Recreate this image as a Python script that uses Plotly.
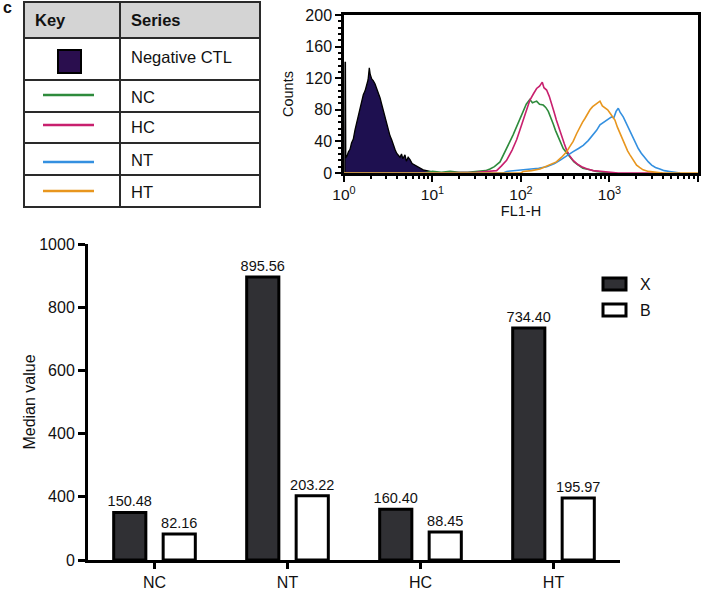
import numpy as np
import plotly.graph_objects as go

# ---------------- data ----------------
categories = ["NC", "NT", "HC", "HT"]
x_values = [150.48, 895.56, 160.40, 734.40]
b_values = [82.16, 203.22, 88.45, 195.97]
bar_tickvals = [0, 200, 400, 600, 800, 1000]
bar_ticktext = ["0", "400", "400", "600", "800", "1000"]

key_series = ["Negative CTL", "NC", "HC", "NT", "HT"]

# FL1-H histograms: exponent (log10 FL1-H) and counts
neg_log = [0.000, 0.010, 0.012, 0.016, 0.020, 0.035, 0.050, 0.068, 0.085, 0.105, 0.125, 0.143,
           0.160, 0.181, 0.200, 0.218, 0.238, 0.256, 0.272, 0.286, 0.296, 0.313, 0.330, 0.350,
           0.368, 0.388, 0.408, 0.426, 0.445, 0.463, 0.482, 0.501, 0.520, 0.539, 0.558, 0.576,
           0.595, 0.614, 0.633, 0.650, 0.665, 0.689, 0.705, 0.725, 0.746, 0.770, 0.802, 0.830,
           0.859, 0.895, 0.934, 0.970, 1.000, 1.050]
neg_cnt = [0, 0, 140, 140, 19, 22, 27, 30, 38, 43, 55, 64,
           74, 84, 92, 99, 104, 110, 118, 133, 125, 119, 117, 113,
           107, 103, 95, 87, 79, 71, 62, 55, 47, 42, 35, 30,
           25, 23, 20, 24, 18, 23, 15, 20, 17, 12, 10, 8,
           7, 4, 3, 2, 1, 0]

nc_log = [0.0, 0.9, 1.0, 1.1, 1.2, 1.3, 1.4, 1.5, 1.6, 1.65, 1.70, 1.763, 1.80, 1.84, 1.876,
          1.91, 1.951, 1.99, 2.026, 2.06, 2.10, 2.13, 2.177, 2.21, 2.252, 2.28, 2.309, 2.34,
          2.365, 2.39, 2.42, 2.45, 2.478, 2.52, 2.554, 2.60, 2.648, 2.70, 2.78, 2.85, 2.93, 3.0]
nc_cnt = [0, 0, 2, 1, 2, 1, 1, 2, 3, 5, 8, 14, 22, 31, 40,
          48, 59, 70, 80, 87, 93, 89, 91, 87, 86, 83, 78, 70,
          62, 54, 46, 38, 31, 25, 20, 14, 10, 6, 4, 2, 1, 0]

hc_log = [0.0, 1.0, 1.5, 1.65, 1.725, 1.78, 1.838, 1.90, 1.951, 1.99, 2.026, 2.06, 2.10, 2.14,
          2.177, 2.21, 2.241, 2.26, 2.29, 2.32, 2.347, 2.375, 2.40, 2.43, 2.46, 2.49, 2.516,
          2.55, 2.59, 2.64, 2.686, 2.75, 2.817, 2.90, 2.97, 3.10, 3.60]
hc_cnt = [0, 0, 1, 2, 3, 9, 16, 29, 42, 55, 67, 79, 92, 100,
          107, 110, 115, 108, 105, 97, 88, 77, 67, 56, 46, 37, 29,
          22, 16, 11, 8, 5, 3, 2, 1, 0, 0]

nt_log = [0.0, 1.8, 1.84, 1.95, 2.10, 2.20, 2.29, 2.38, 2.44, 2.478, 2.53, 2.59, 2.65, 2.704,
          2.76, 2.817, 2.855, 2.893, 2.93, 2.968, 2.995, 3.024, 3.05, 3.075, 3.10, 3.12, 3.156,
          3.185, 3.213, 3.24, 3.27, 3.30, 3.326, 3.36, 3.40, 3.44, 3.477, 3.52, 3.57, 3.62,
          3.68, 3.75, 3.80]
nt_cnt = [0, 0, 2, 3, 5, 6, 8, 12, 16, 19, 23, 27, 31, 35,
          41, 48, 54, 61, 64, 67, 69, 71, 70, 78, 82, 77, 71,
          64, 57, 51, 44, 37, 31, 25, 19, 14, 10, 7, 5, 3,
          2, 1, 0]

ht_log = [0.0, 2.0, 2.026, 2.12, 2.215, 2.30, 2.35, 2.40, 2.46, 2.516, 2.55, 2.59, 2.63, 2.667,
          2.695, 2.723, 2.75, 2.78, 2.81, 2.836, 2.865, 2.893, 2.92, 2.949, 2.98, 3.006, 3.035,
          3.062, 3.09, 3.119, 3.147, 3.175, 3.205, 3.232, 3.27, 3.307, 3.34, 3.38, 3.44, 3.495,
          3.60, 4.00]
ht_cnt = [0, 0, 2, 3, 5, 9, 11, 14, 20, 27, 33, 40, 50, 59,
          64, 69, 75, 80, 84, 86, 88, 91, 85, 82, 80, 76, 72,
          67, 58, 50, 42, 35, 28, 23, 16, 10, 7, 4, 2, 1,
          0, 0]

# ---------------- styling ----------------
W, H = 708, 593
FONT = "Liberation Sans, Arial, Helvetica, sans-serif"
INK = "#111111"
COL = {"NC": "#2e8b3c", "HC": "#c8206e", "NT": "#3490e0", "HT": "#e8961e"}
NEG_FILL = "#1e1050"
BAR_DARK = "#303034"


def fx(px):
    return px / W


def fy(py):
    return 1 - py / H


fig = go.Figure()

# ---- bar chart ----
for name, vals, fill in [("X", x_values, BAR_DARK), ("B", b_values, "white")]:
    fig.add_trace(go.Bar(
        x=categories, y=vals, name=name,
        marker=dict(color=fill, line=dict(color="black", width=3)),
        text=[f"{v:.2f}" for v in vals], textposition="outside",
        constraintext="none",
        textfont=dict(size=14.5, color=INK, family=FONT), cliponaxis=False,
        xaxis="x", yaxis="y", showlegend=False))

# ---- histogram ----
fig.add_trace(go.Scatter(
    x=np.power(10.0, neg_log), y=neg_cnt, name="Negative CTL", mode="lines",
    line=dict(color="black", width=1.3), fill="tozeroy", fillcolor=NEG_FILL,
    xaxis="x2", yaxis="y2", showlegend=False))
for name, lg, ct in [("NC", nc_log, nc_cnt), ("HC", hc_log, hc_cnt),
                     ("NT", nt_log, nt_cnt), ("HT", ht_log, ht_cnt)]:
    fig.add_trace(go.Scatter(
        x=np.power(10.0, lg), y=ct, name=name, mode="lines",
        line=dict(color=COL[name], width=1.6),
        xaxis="x2", yaxis="y2", showlegend=False))

minor_log_ticks = [m * d for d in (1, 10, 100, 1000) for m in range(2, 10)]

shapes = []
annotations = []

# ---- key table ----
tl, tr, tdiv = 24, 260, 120
rows = [2, 38, 80, 112, 143, 175, 207]
BORDER = "#2a2a2a"
shapes.append(dict(type="rect", xref="paper", yref="paper",
                   x0=fx(tl), x1=fx(tr), y0=fy(rows[1]), y1=fy(rows[0]),
                   fillcolor="#d4d4d4", line=dict(width=0), layer="below"))
shapes.append(dict(type="rect", xref="paper", yref="paper",
                   x0=fx(tl), x1=fx(tr), y0=fy(rows[-1]), y1=fy(rows[0]),
                   line=dict(color=BORDER, width=2)))
shapes.append(dict(type="line", xref="paper", yref="paper",
                   x0=fx(tdiv), x1=fx(tdiv), y0=fy(rows[-1]), y1=fy(rows[0]),
                   line=dict(color=BORDER, width=2)))
for r in rows[1:-1]:
    shapes.append(dict(type="line", xref="paper", yref="paper",
                       x0=fx(tl), x1=fx(tr), y0=fy(r), y1=fy(r),
                       line=dict(color=BORDER, width=2)))

annotations.append(dict(text="<b>Key</b>", x=fx(33), y=fy(20), xref="paper", yref="paper",
                        xanchor="left", yanchor="middle", showarrow=False,
                        font=dict(size=16.5, color=INK, family=FONT)))
annotations.append(dict(text="<b>Series</b>", x=fx(129), y=fy(20), xref="paper", yref="paper",
                        xanchor="left", yanchor="middle", showarrow=False,
                        font=dict(size=16.5, color=INK, family=FONT)))
label_y = [57, 97, 127, 160, 192]
for s, yy in zip(key_series, label_y):
    annotations.append(dict(text=s, x=fx(129), y=fy(yy), xref="paper", yref="paper",
                            xanchor="left", yanchor="middle", showarrow=False,
                            font=dict(size=16.5, color=INK, family=FONT)))
# key symbols
shapes.append(dict(type="rect", xref="paper", yref="paper",
                   x0=fx(58), x1=fx(81), y0=fy(73), y1=fy(50),
                   fillcolor="#2a0e4e", line=dict(color="black", width=2)))
for s, yy in zip(key_series[1:], [95, 125, 162, 191]):
    shapes.append(dict(type="line", xref="paper", yref="paper",
                       x0=fx(43), x1=fx(94), y0=fy(yy), y1=fy(yy),
                       line=dict(color=COL[s], width=2.5)))

# panel letter
annotations.append(dict(text="<b>c</b>", x=fx(1), y=fy(7), xref="paper", yref="paper",
                        xanchor="left", yanchor="middle", showarrow=False,
                        font=dict(size=16, color=INK, family=FONT)))

# ---- bar legend (drawn) ----
for lab, fill, yc in [("X", BAR_DARK, 284), ("B", "white", 310)]:
    shapes.append(dict(type="rect", xref="paper", yref="paper",
                       x0=fx(603), x1=fx(626), y0=fy(yc + 6), y1=fy(yc - 6),
                       fillcolor=fill, line=dict(color="black", width=3)))
    annotations.append(dict(text=lab, x=fx(638), y=fy(yc), xref="paper", yref="paper",
                            xanchor="left", yanchor="middle", showarrow=False,
                            font=dict(size=16, color=INK, family=FONT)))

axis_common = dict(showgrid=False, zeroline=False, showline=True, linecolor="black",
                   ticks="outside", tickcolor="black", automargin=False)

fig.update_layout(
    width=W, height=H,
    margin=dict(l=0, r=0, t=0, b=0, autoexpand=False),
    paper_bgcolor="white", plot_bgcolor="white",
    font=dict(family=FONT, color=INK),
    barmode="group", bargap=0.256, bargroupgap=0.35,
    xaxis=dict(domain=[fx(88), fx(620)], anchor="y", type="category",
               range=[-0.5, 3.5], linewidth=3, ticklen=6, tickwidth=2.5,
               tickfont=dict(size=16, color=INK), **axis_common),
    yaxis=dict(domain=[fy(560), fy(244)], anchor="x", range=[0, 1000],
               tickvals=bar_tickvals, ticktext=bar_ticktext,
               linewidth=3, ticklen=7, tickwidth=2.5,
               tickfont=dict(size=16, color=INK),
               title=dict(text="Median value", font=dict(size=16, color=INK), standoff=0),
               **axis_common),
    xaxis2=dict(domain=[fx(344), fx(698)], anchor="y2", type="log", range=[0, 4.001],
                tickvals=[1, 10, 100, 1000, 10000],
                ticktext=["10<sup>0</sup>", "10<sup>1</sup>", "10<sup>2</sup>",
                          "10<sup>3</sup>", "10<sup>4</sup>"],
                mirror=True, linewidth=2.5, ticklen=6, tickwidth=2,
                tickfont=dict(size=15.5, color=INK),
                minor=dict(tickvals=minor_log_ticks, ticks="outside", ticklen=3,
                           tickwidth=1.5, tickcolor="black"),
                title=dict(text="FL1-H", font=dict(size=14.5, color=INK), standoff=0),
                **axis_common),
    yaxis2=dict(domain=[fy(173), fy(15)], anchor="x2", range=[0, 200], dtick=40,
                mirror=True, linewidth=2.5, ticklen=6, tickwidth=2,
                tickfont=dict(size=16, color=INK),
                minor=dict(dtick=8, ticks="outside", ticklen=3, tickwidth=1.5,
                           tickcolor="black"),
                title=dict(text="Counts", font=dict(size=14.5, color=INK), standoff=9),
                **axis_common),
    shapes=shapes,
    annotations=annotations,
)

fig.write_html("out.html", config={"displayModeBar": False},
               post_script="document.body.style.margin='0';document.body.style.padding='0';")
